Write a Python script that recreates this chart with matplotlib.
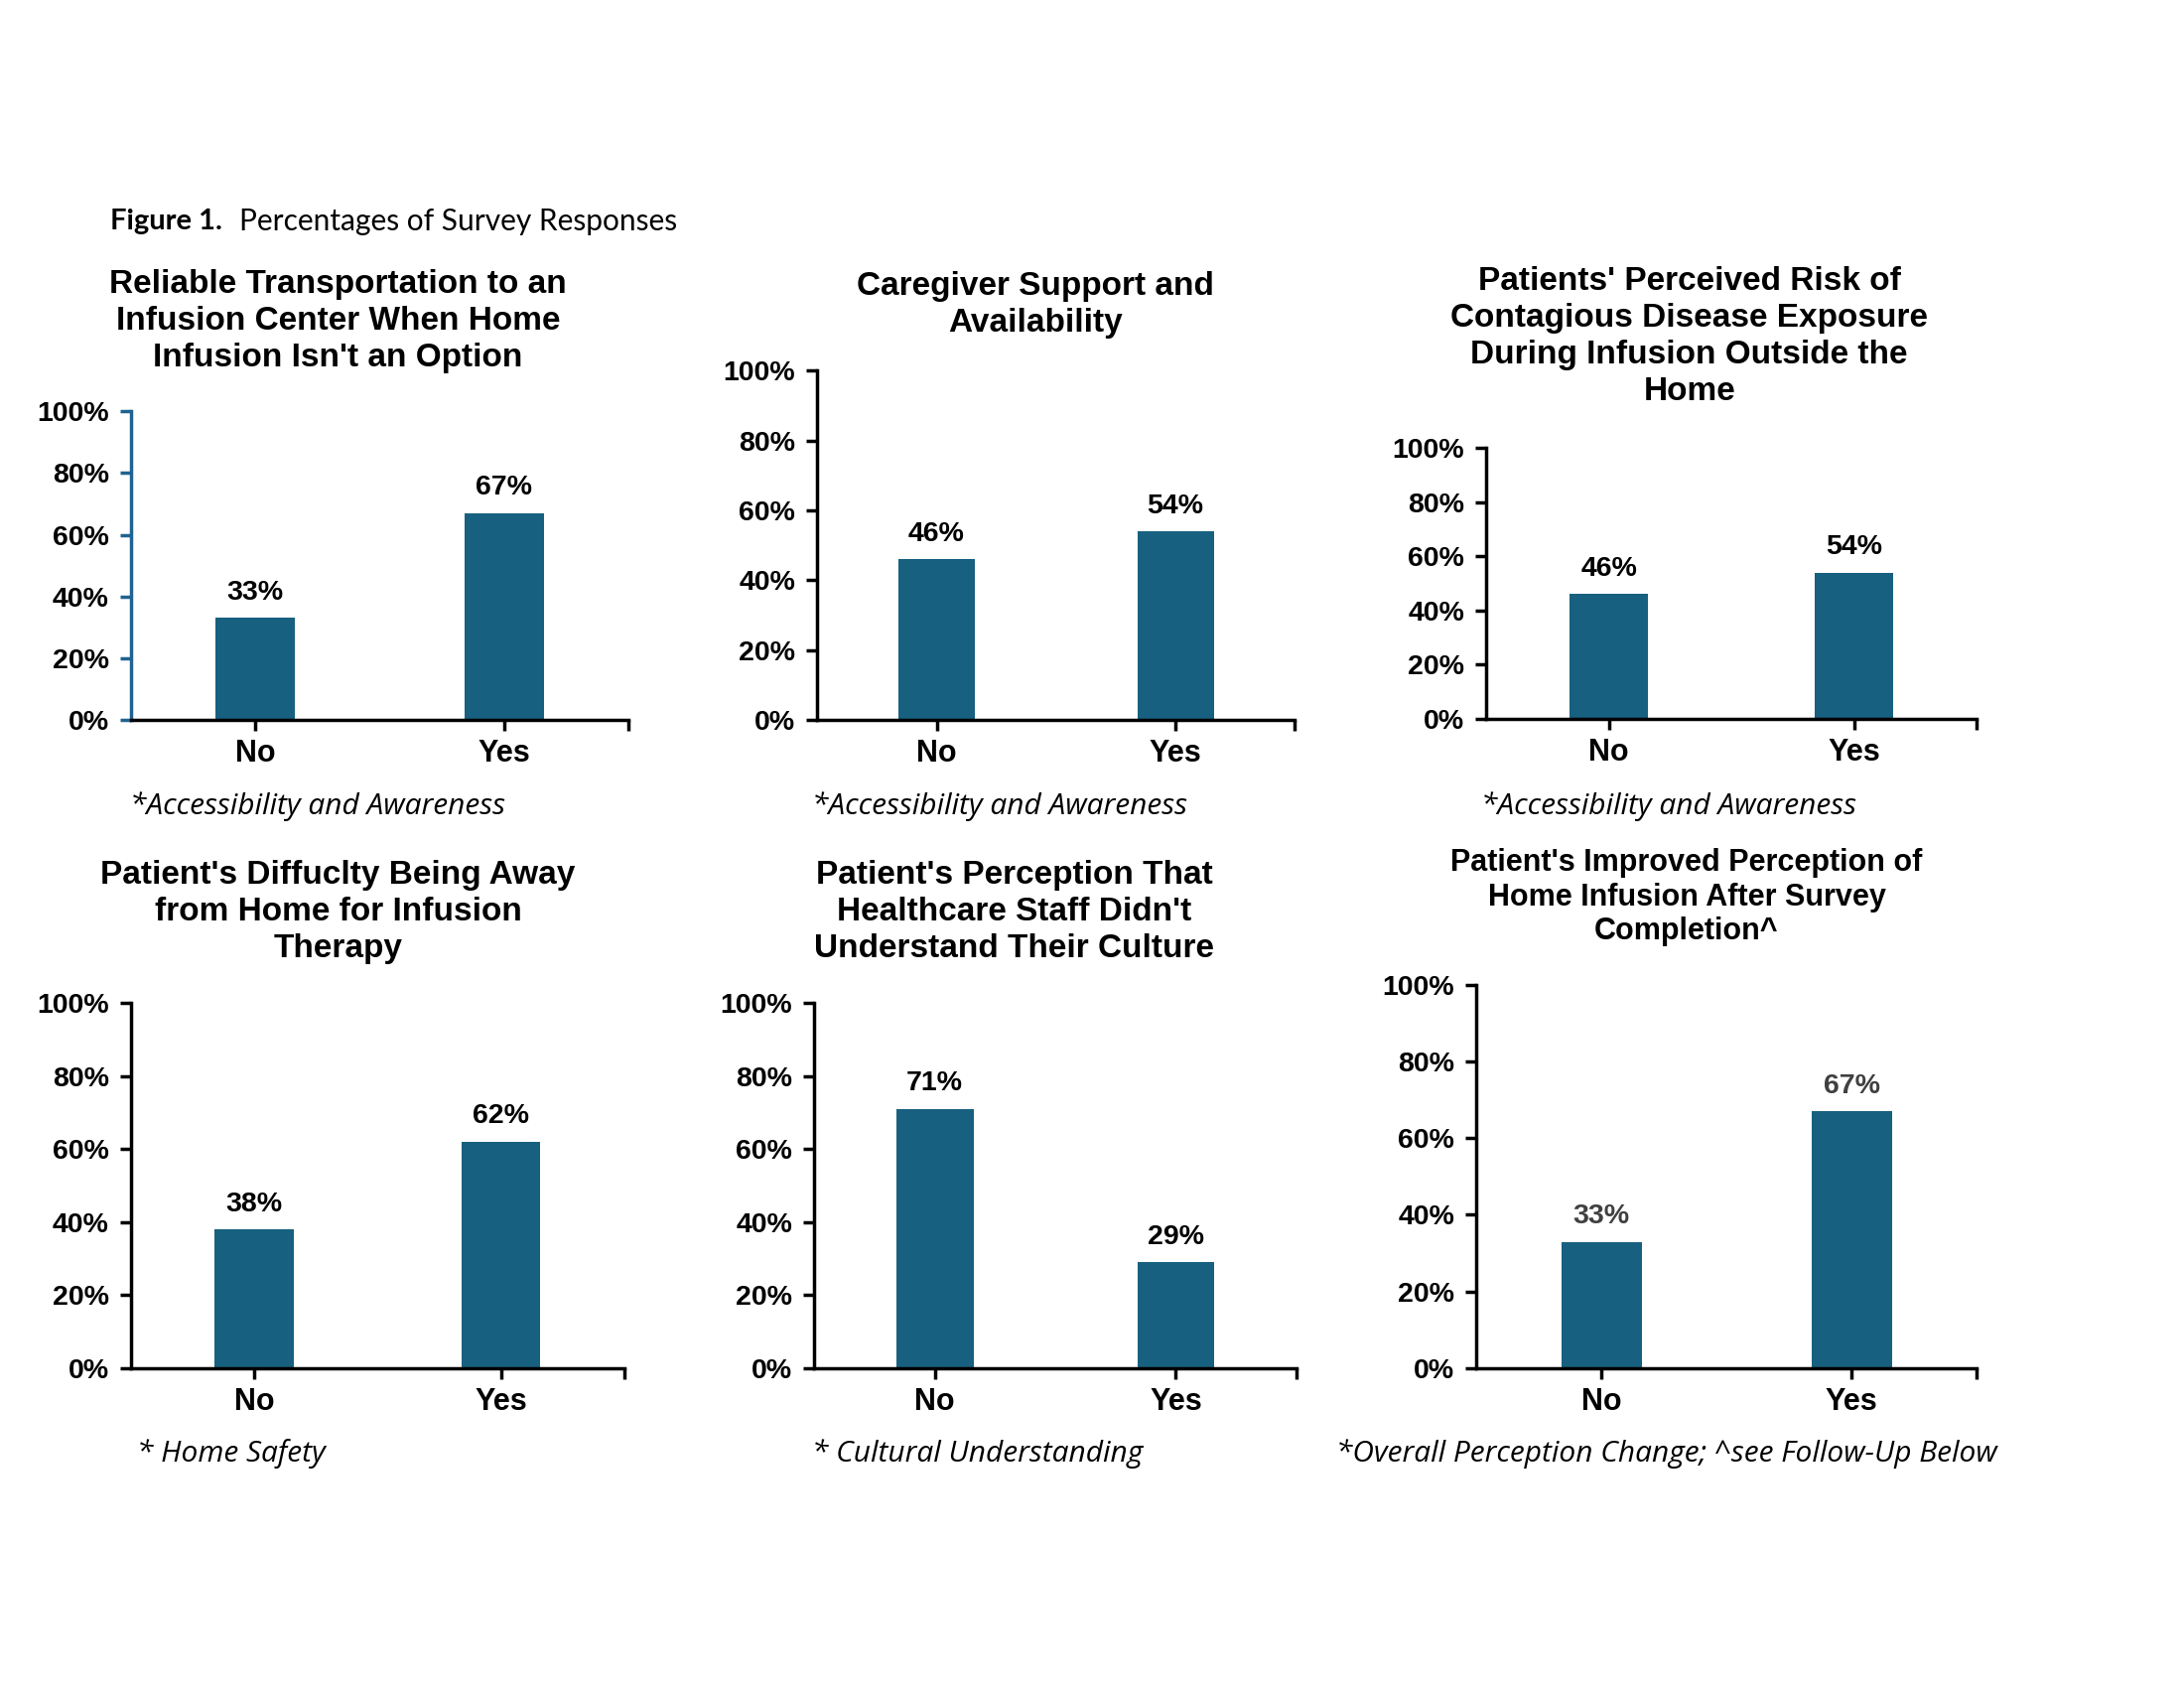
import matplotlib
matplotlib.use("Agg")
import matplotlib.pyplot as plt

plt.rcParams['font.family'] = ['Liberation Sans', 'DejaVu Sans']

categories = ["No", "Yes"]

titles = [
    "Reliable Transportation to an\nInfusion Center When Home\nInfusion Isn't an Option",
    "Caregiver Support and\nAvailability",
    "Patients' Perceived Risk of\nContagious Disease Exposure\nDuring Infusion Outside the\nHome",
    "Patient's Diffuclty Being Away\nfrom Home for Infusion\nTherapy",
    "Patient's Perception That\nHealthcare Staff Didn't\nUnderstand Their Culture",
    "Patient's Improved Perception of\nHome Infusion After Survey\nCompletion^",
]

values = [
    [33, 67],
    [46, 54],
    [46, 54],
    [38, 62],
    [71, 29],
    [33, 67],
]

footnotes = [
    "*Accessibility and Awareness",
    "*Accessibility and Awareness",
    "*Accessibility and Awareness",
    "* Home Safety",
    "* Cultural Understanding",
    "*Overall Perception Change; ^see Follow-Up Below",
]

yticks = [0, 20, 40, 60, 80, 100]
ytick_labels = ["0%", "20%", "40%", "60%", "80%", "100%"]

bar_color = "#17607F"

# axes boxes [left, bottom, width, height] in figure fraction
boxes = [
    [0.060, 0.5735, 0.2277, 0.1828],
    [0.3742, 0.5735, 0.2187, 0.2070],
    [0.6806, 0.5743, 0.2245, 0.1603],
    [0.060, 0.1895, 0.2258, 0.2162],
    [0.3729, 0.1895, 0.2206, 0.2162],
    [0.6761, 0.1895, 0.2290, 0.2270],
]
title_pos = [(0.1548, 0.810), (0.4742, 0.8193), (0.7735, 0.8005),
             (0.1548, 0.4595), (0.4645, 0.4595), (0.7723, 0.4683)]
foot_pos = [(0.0594, 0.5225), (0.3716, 0.5225), (0.678, 0.5225),
            (0.0626, 0.1386), (0.3716, 0.1386), (0.6116, 0.1386)]

fig = plt.figure(figsize=(22, 17), dpi=100)

fig.text(0.0503, 0.869, "Figure 1.", fontsize=21, fontweight="bold",
         family=["Lato", "DejaVu Sans"], va="center")
fig.text(0.1097, 0.869, "Percentages of Survey Responses", fontsize=21.5,
         family=["Lato", "DejaVu Sans"], va="center")

for i in range(6):
    ax = fig.add_axes(boxes[i])
    x = range(len(categories))
    bars = ax.bar(x, values[i], width=0.32, color=bar_color, zorder=2)
    ax.set_xlim(-0.5, 1.5)
    ax.set_ylim(0, 100)
    ax.set_yticks(yticks)
    ax.set_yticklabels(ytick_labels, fontsize=20.5, fontweight="bold")
    ax.set_xticks(list(x))
    ax.set_xticklabels(categories, fontsize=22, fontweight="bold")
    ax.set_xticks([1.5], minor=True)
    ax.spines["top"].set_visible(False)
    ax.spines["right"].set_visible(False)
    ax.spines["left"].set_linewidth(2.5)
    ax.spines["bottom"].set_linewidth(2.5)
    spine_col = "#1F6391" if i == 0 else "black"
    ax.spines["left"].set_color(spine_col)
    ax.tick_params(axis="y", direction="out", length=8, width=2.5, color=spine_col, pad=8)
    ax.tick_params(axis="x", which="both", direction="out", length=8, width=2.5, pad=6)

    lab_col = "#404040" if i == 5 else "black"
    for b, v in zip(bars, values[i]):
        ax.annotate(f"{v}%", (b.get_x() + b.get_width() / 2, v),
                    xytext=(0, 9), textcoords="offset points",
                    ha="center", va="bottom", fontsize=20.5, fontweight="bold",
                    color=lab_col)

    tsize = 22 if i == 5 else 24
    lsp = 1.2 if i == 5 else 1.25
    fig.text(title_pos[i][0], title_pos[i][1], titles[i], ha="center", va="center",
             multialignment="center", fontsize=tsize, fontweight="bold", linespacing=lsp)
    fig.text(foot_pos[i][0], foot_pos[i][1], footnotes[i], ha="left", va="center",
             fontsize=21.5, style="italic", family=["Open Sans", "DejaVu Sans"])

fig.savefig("out.png", dpi=100, facecolor="white")
